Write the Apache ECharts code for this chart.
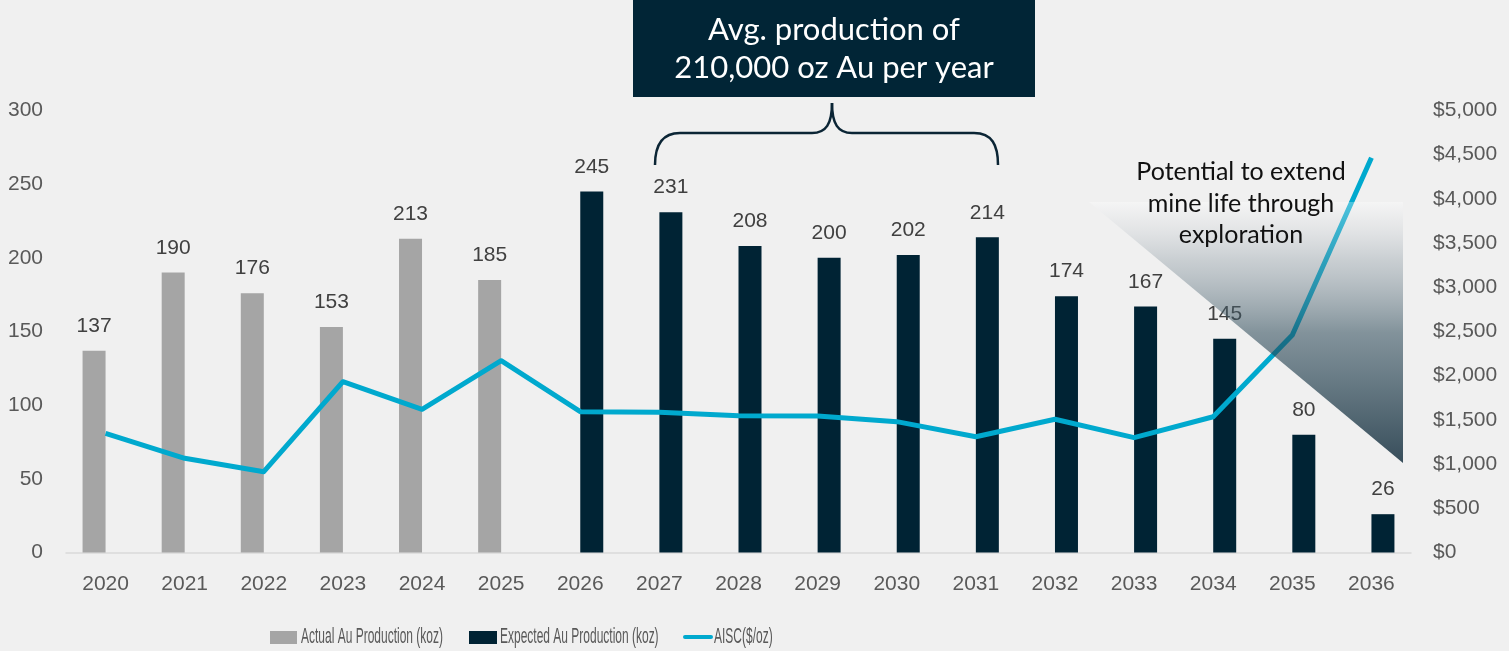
<!DOCTYPE html>
<html>
<head>
<meta charset="utf-8">
<title>Au production and AISC</title>
<script src="https://cdn.jsdelivr.net/npm/echarts@6/dist/echarts.min.js"></script>
<style>
  html, body { margin: 0; padding: 0; background: #f0f0f0; }
  #chart { width: 1509px; height: 651px; }
</style>
</head>
<body>
<div id="chart"></div>
<script>
// Production years
const years = ['2020', '2021', '2022', '2023', '2024', '2025', '2026', '2027', '2028',
  '2029', '2030', '2031', '2032', '2033', '2034', '2035', '2036'];

// Gold production, thousand ounces
const actualProduction = [137, 190, 176, 153, 213, 185, '-', '-', '-', '-', '-', '-', '-', '-', '-', '-', '-'];
const expectedProduction = ['-', '-', '-', '-', '-', '-', 245, 231, 208, 200, 202, 214, 174, 167, 145, 80, 26];

// All-in sustaining cost, $/oz
const aisc = [1348, 1066, 914, 1932, 1620, 2170, 1593, 1586, 1548, 1544, 1480, 1310, 1507, 1299, 1536, 2460, 4465];

// Axis ranges
const prodAxis = { min: 0, max: 300, interval: 50 };
const costAxis = { min: 0, max: 5000, interval: 500 };

const seriesNames = ['Actual Au Production (koz)', 'Expected Au Production (koz)', 'AISC($/oz)'];
const annotationText = ['Avg. production of', '210,000 oz Au per year'];
const explorationText = ['Potential to extend', 'mine life through', 'exploration'];

const GRAY = '#a5a5a5';
const NAVY = '#002334';
const CYAN = '#00a9ce';
const TICK = '#595959';
const LABEL = '#404040';
const FONT = '"Liberation Sans", Arial, sans-serif';
const NOTE_FONT = 'Lato, "Open Sans", sans-serif';

const chart = echarts.init(document.getElementById('chart'), null, { renderer: 'canvas' });

const barLabel = {
  show: true,
  position: 'top',
  distance: 14,
  color: LABEL,
  fontSize: 21,
  fontFamily: FONT
};

// Hand-built legend with horizontally condensed text
function legendGraphics() {
  const items = [];
  const y = 637;
  const textStyle = { fill: TICK, fontSize: 22, fontFamily: FONT, verticalAlign: 'middle' };
  const squeeze = 0.545;
  items.push({ type: 'rect', shape: { x: 270, y: 631, width: 27, height: 13 }, style: { fill: GRAY } });
  items.push({ type: 'text', x: 301, y: y, scaleX: squeeze, style: Object.assign({ text: seriesNames[0], x: 0, y: 0 }, textStyle) });
  items.push({ type: 'rect', shape: { x: 469, y: 631, width: 28, height: 13 }, style: { fill: NAVY } });
  items.push({ type: 'text', x: 500, y: y, scaleX: squeeze, style: Object.assign({ text: seriesNames[1], x: 0, y: 0 }, textStyle) });
  items.push({ type: 'line', shape: { x1: 685, y1: y, x2: 711, y2: y }, style: { stroke: CYAN, lineWidth: 4, lineCap: 'round' } });
  items.push({ type: 'text', x: 714, y: y, scaleX: squeeze, style: Object.assign({ text: seriesNames[2], x: 0, y: 0 }, textStyle) });
  return items;
}

// Curly brace drawn from curve and line pieces
function braceGraphics() {
  const st = { fill: 'none', stroke: '#0b2535', lineWidth: 2.5 };
  return [
    { type: 'bezierCurve', z: 20, shape: { x1: 655, y1: 165, cpx1: 655, cpy1: 145, cpx2: 662, cpy2: 133, x2: 680, y2: 133 }, style: st },
    { type: 'line', z: 20, shape: { x1: 680, y1: 133, x2: 812, y2: 133 }, style: st },
    { type: 'bezierCurve', z: 20, shape: { x1: 812, y1: 133, cpx1: 826, cpy1: 133, cpx2: 832, cpy2: 124, x2: 832, y2: 103 }, style: st },
    { type: 'bezierCurve', z: 20, shape: { x1: 832, y1: 103, cpx1: 832, cpy1: 124, cpx2: 838, cpy2: 133, x2: 852, y2: 133 }, style: st },
    { type: 'line', z: 20, shape: { x1: 852, y1: 133, x2: 974, y2: 133 }, style: st },
    { type: 'bezierCurve', z: 20, shape: { x1: 974, y1: 133, cpx1: 992, cpy1: 133, cpx2: 998, cpy2: 145, x2: 998, y2: 165 }, style: st }
  ];
}

const option = {
  backgroundColor: '#f0f0f0',
  animation: false,
  grid: { left: 66, right: 98, top: 110.5, bottom: 98.5 },
  xAxis: {
    type: 'category',
    data: years,
    axisLine: { show: true, lineStyle: { color: '#d9d9d9', width: 1.5 } },
    axisTick: { show: false },
    axisLabel: { color: TICK, fontSize: 21, fontFamily: FONT, margin: 21 }
  },
  yAxis: [
    {
      type: 'value',
      min: prodAxis.min, max: prodAxis.max, interval: prodAxis.interval,
      axisLine: { show: false },
      axisTick: { show: false },
      splitLine: { show: false },
      axisLabel: { color: TICK, fontSize: 21, fontFamily: FONT, margin: 23 }
    },
    {
      type: 'value',
      min: costAxis.min, max: costAxis.max, interval: costAxis.interval,
      position: 'right',
      axisLine: { show: false },
      axisTick: { show: false },
      splitLine: { show: false },
      axisLabel: {
        color: TICK, fontSize: 21, fontFamily: FONT, margin: 22,
        formatter: v => '$' + v.toLocaleString('en-US')
      }
    }
  ],
  series: [
    {
      name: seriesNames[0],
      type: 'bar',
      data: actualProduction,
      barWidth: 23,
      barGap: '0%',
      itemStyle: { color: GRAY },
      label: barLabel
    },
    {
      name: seriesNames[1],
      type: 'bar',
      data: expectedProduction,
      barWidth: 23,
      barGap: '0%',
      itemStyle: { color: NAVY },
      label: barLabel
    },
    {
      name: seriesNames[2],
      type: 'line',
      yAxisIndex: 1,
      data: aisc,
      symbol: 'none',
      z: 3,
      lineStyle: { color: CYAN, width: 5, join: 'round' },
      itemStyle: { color: CYAN }
    }
  ],
  graphic: [
    // Headline box
    {
      type: 'rect', z: 20,
      shape: { x: 633, y: 0, width: 402, height: 97 },
      style: { fill: '#012536' }
    },
    {
      type: 'text', z: 21, x: 834, y: 30,
      style: { text: annotationText[0], fill: '#ffffff', fontSize: 31, fontFamily: NOTE_FONT, align: 'center', verticalAlign: 'middle' }
    },
    {
      type: 'text', z: 21, x: 834, y: 68,
      style: { text: annotationText[1], fill: '#ffffff', fontSize: 31, fontFamily: NOTE_FONT, align: 'center', verticalAlign: 'middle' }
    },
    // Shaded exploration triangle
    {
      type: 'polygon', z: 20,
      shape: { points: [[1089, 202], [1403, 202], [1403, 463]] },
      style: {
        fill: {
          type: 'linear', x: 0, y: 0, x2: 0, y2: 1,
          colorStops: [
            { offset: 0, color: 'rgba(255,255,255,0.3)' },
            { offset: 0.1, color: 'rgba(200,205,210,0.3)' },
            { offset: 0.22, color: 'rgba(130,145,155,0.35)' },
            { offset: 0.5, color: 'rgba(40,70,85,0.55)' },
            { offset: 1, color: 'rgba(30,55,70,0.88)' }
          ]
        }
      }
    },
    {
      type: 'text', z: 22, x: 1241, y: 172,
      style: { text: explorationText[0], fill: '#111111', fontSize: 25, fontFamily: NOTE_FONT, align: 'center', verticalAlign: 'middle' }
    },
    {
      type: 'text', z: 22, x: 1241, y: 204,
      style: { text: explorationText[1], fill: '#111111', fontSize: 25, fontFamily: NOTE_FONT, align: 'center', verticalAlign: 'middle' }
    },
    {
      type: 'text', z: 22, x: 1241, y: 235,
      style: { text: explorationText[2], fill: '#111111', fontSize: 25, fontFamily: NOTE_FONT, align: 'center', verticalAlign: 'middle' }
    }
  ].concat(braceGraphics(), legendGraphics())
};

chart.setOption(option);
</script>
</body>
</html>
